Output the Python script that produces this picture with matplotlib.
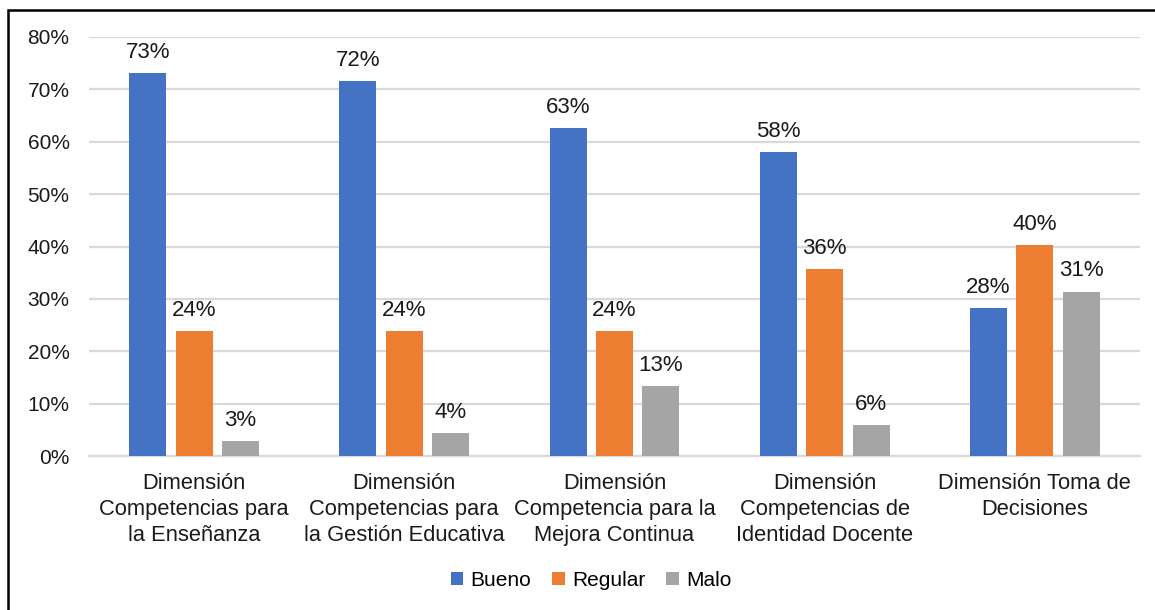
import numpy as np
import matplotlib
matplotlib.use("Agg")
import matplotlib.pyplot as plt
from matplotlib.patches import Rectangle

plt.rcParams['font.family'] = ['Liberation Sans', 'DejaVu Sans']

categorias = ["Dimensión\nCompetencias para\nla Enseñanza",
              "Dimensión\nCompetencias para\nla Gestión Educativa",
              "Dimensión\nCompetencia para la\nMejora Continua",
              "Dimensión\nCompetencias de\nIdentidad Docente",
              "Dimensión Toma de\nDecisiones"]
series = ["Bueno", "Regular", "Malo"]
bueno = [73.1, 71.6, 62.6, 58.0, 28.2]
regular = [23.9, 23.9, 23.9, 35.7, 40.3]
malo = [2.9, 4.4, 13.4, 5.9, 31.4]
colores = ["#4472C4", "#ED7D31", "#A5A5A5"]

fig = plt.figure(figsize=(11.55, 6.10), dpi=100)
ax = fig.add_axes([89/1155, 154/610, (1140-89)/1155, (456-37)/610])

x = np.arange(len(categorias))
ancho = 0.176
paso = 0.221
for i, (vals, nombre) in enumerate(zip([bueno, regular, malo], series)):
    barras = ax.bar(x + (i-1)*paso, np.array(vals)/100, ancho,
                    color=colores[i], label=nombre, zorder=3)
    for b, v in zip(barras, vals):
        ax.annotate(f"{round(v):.0f}%", (b.get_x() + b.get_width()/2, b.get_height()),
                    xytext=(0, 11), textcoords="offset points",
                    ha="center", va="baseline", fontsize=16, color="#1a1a1a")

ax.set_xlim(-0.5, len(categorias) - 0.5)
ax.set_ylim(0, 0.8)
ax.set_yticks(np.arange(0, 0.81, 0.1))
ax.set_yticklabels([f"{int(round(t*100))}%" for t in np.arange(0, 0.81, 0.1)])
ax.set_xticks(x)
ax.set_xticklabels(categorias, fontsize=15.75, linespacing=1.32)
ax.tick_params(axis="y", length=0, pad=14, labelsize=15, colors="#1a1a1a")
ax.tick_params(axis="x", length=0, pad=12, colors="#1a1a1a")
ax.grid(axis="y", color="#d9d9d9", linewidth=1.6, zorder=0)
for s in ["top", "right", "left"]:
    ax.spines[s].set_visible(False)
ax.spines["bottom"].set_color("#d9d9d9")
ax.spines["bottom"].set_linewidth(1.6)

fig.legend(loc="center", bbox_to_anchor=(591/1155, 1 - 580/610), ncol=3,
           frameon=False, fontsize=15, handlelength=0.6, handleheight=0.6,
           handletextpad=0.35, columnspacing=1.0)

fig.patches.append(Rectangle((8/1155, -0.1), 1.2, (610-10)/610 + 0.1,
                             transform=fig.transFigure, fill=False,
                             edgecolor="black", linewidth=1.8))

fig.savefig("out.png", dpi=100)
